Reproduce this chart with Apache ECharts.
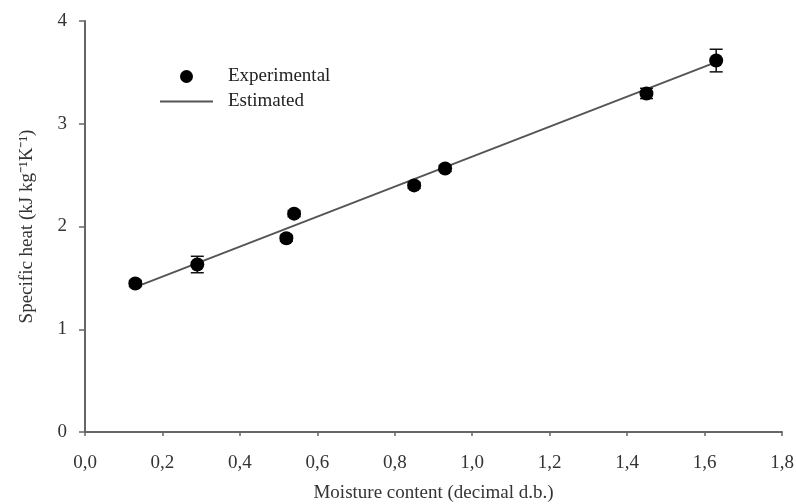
<!DOCTYPE html>
<html>
<head>
<meta charset="utf-8">
<script src="https://cdn.jsdelivr.net/npm/echarts@6/dist/echarts.min.js"></script>
<style>html,body{margin:0;padding:0;background:#fff}#c{width:796px;height:504px}</style>
</head>
<body>
<div id="c"></div>
<script>
var moisture = [0.13, 0.29, 0.52, 0.54, 0.85, 0.93, 1.45, 1.63];
var specificHeat = [1.445, 1.63, 1.885, 2.125, 2.40, 2.565, 3.295, 3.615];
var stdError = [0.03, 0.08, 0.03, 0.03, 0.03, 0.03, 0.05, 0.11];
var estimatedX = [0.13, 1.63];
var estimatedY = [1.41, 3.60];
var xTicks = ['0,0','0,2','0,4','0,6','0,8','1,0','1,2','1,4','1,6','1,8'];

var expData = moisture.map(function(x,i){return [x, specificHeat[i]];});
var errData = moisture.map(function(x,i){return [x, specificHeat[i]-stdError[i], specificHeat[i]+stdError[i]];});
var estData = estimatedX.map(function(x,i){return [x, estimatedY[i]];});

var font = 'Liberation Serif';
var chart = echarts.init(document.getElementById('c'), null, {renderer:'canvas'});
chart.setOption({
  backgroundColor:'#fff',
  animation:false,
  grid:{left:85, right:14, top:21, bottom:72, containLabel:false, outerBoundsMode:'none'},
  legend:{
    orient:'vertical', left:155, top:62, itemWidth:53, itemHeight:13, itemGap:6,
    textStyle:{fontFamily:font, fontSize:19, color:'#222', padding:[0,0,0,10]},
    data:[
      {name:'Experimental', icon:'circle', itemStyle:{color:'#000', opacity:1}},
      {name:'Estimated', icon:'path://M0,0 L53,0 L53,2 L0,2 Z'}
    ]
  },
  xAxis:{
    type:'value', min:0, max:1.8, interval:0.2,
    axisLine:{lineStyle:{color:'#666', width:2}},
    axisTick:{length:4, lineStyle:{color:'#666', width:1.5}},
    splitLine:{show:false},
    axisLabel:{fontFamily:font, fontSize:19, color:'#333', margin:22,
      formatter:function(v){return xTicks[Math.round(v/0.2)];}},
    name:'Moisture content (decimal d.b.)', nameLocation:'middle', nameGap:52,
    nameTextStyle:{fontFamily:font, fontSize:19, color:'#333'}
  },
  yAxis:{
    type:'value', min:0, max:4, interval:1,
    axisLine:{show:true, lineStyle:{color:'#666', width:2}},
    axisTick:{show:true, length:6, lineStyle:{color:'#666', width:1.5}},
    splitLine:{show:false},
    axisLabel:{fontFamily:font, fontSize:19, color:'#333', margin:18},
    name:'Specific heat (kJ kg\u207B\u00B9K\u207B\u00B9)', nameLocation:'middle', nameGap:48,
    nameTextStyle:{fontFamily:font, fontSize:19, color:'#333'}
  },
  series:[
    {
      name:'Estimated', type:'line', data:estData, showSymbol:false, symbol:'none',
      lineStyle:{color:'#555', width:2}, itemStyle:{color:'#555'}, z:2
    },
    {
      name:'ErrorBars', type:'custom', data:errData, z:3,
      renderItem:function(params, api){
        var x = api.value(0);
        var lo = api.coord([x, api.value(1)]);
        var hi = api.coord([x, api.value(2)]);
        var hw = 6.5;
        return {type:'group', children:[
          {type:'line', shape:{x1:lo[0], y1:lo[1], x2:hi[0], y2:hi[1]}, style:{stroke:'#111', lineWidth:1.5}},
          {type:'line', shape:{x1:lo[0]-hw, y1:lo[1], x2:lo[0]+hw, y2:lo[1]}, style:{stroke:'#111', lineWidth:1.5}},
          {type:'line', shape:{x1:hi[0]-hw, y1:hi[1], x2:hi[0]+hw, y2:hi[1]}, style:{stroke:'#111', lineWidth:1.5}}
        ]};
      }
    },
    {
      name:'Experimental', type:'scatter', data:expData, symbol:'circle', symbolSize:14,
      itemStyle:{color:'#000', opacity:1}, z:4
    }
  ]
});
</script>
</body>
</html>
